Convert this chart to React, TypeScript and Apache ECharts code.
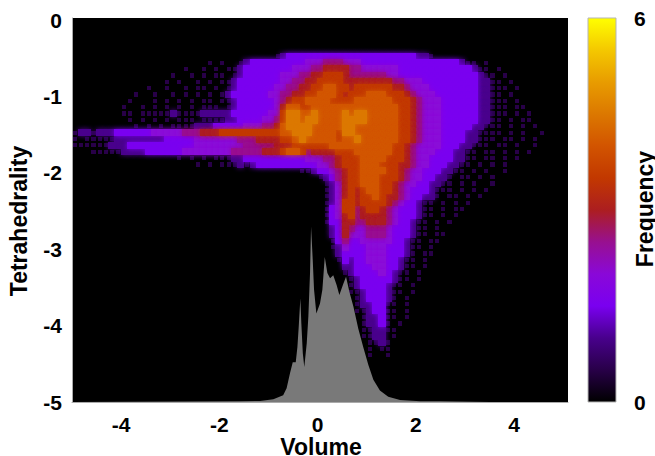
import React, { useEffect, useRef } from "react";
import * as echarts from "echarts";

// Frequency colour scale, evenly spaced from 0 to 6
const paletteStops = ["#000000","#280048","#48008c","#7a00f0","#8a08d8","#981090","#ac1e20","#c23800","#d25400","#dc7800","#e89c00","#f4c800","#ffff00"];
const xTicks = [-4, -2, 0, 2, 4];
const yTicks = [-5, -4, -3, -2, -1, 0];
const colourTicks = [0, 6];

// Grey marginal histogram of Volume, drawn up from the -5 baseline
const histX = [-5,-1.58,-1.17,-0.9,-0.7,-0.63,-0.56,-0.505,-0.444,-0.41,-0.383,-0.35,-0.33,-0.3,-0.27,-0.22,-0.187,-0.153,-0.132,-0.098,-0.071,-0.024,0.05,0.098,0.147,0.2,0.255,0.32,0.39,0.444,0.525,0.58,0.648,0.73,0.83,0.93,1.035,1.137,1.27,1.44,1.68,2.09,2.49,3.5,5.1];
const histY = [-5,-4.99,-4.987,-4.965,-4.91,-4.82,-4.62,-4.48,-4.48,-4.28,-4.01,-3.64,-3.97,-4.36,-4.54,-4.23,-3.88,-3.31,-2.7,-3.14,-3.53,-3.84,-3.71,-3.53,-3.1,-3.31,-3.38,-3.34,-3.47,-3.6,-3.45,-3.36,-3.555,-3.75,-4.04,-4.28,-4.515,-4.71,-4.85,-4.93,-4.975,-4.99,-4.99,-5,-5];

// Density levels, one row per 1/12 of Tetrahedrality, going down from about -0.39
// Each level is half a unit of Frequency; the first column of each row is in rowStarts
const levelStep = 0.5;
const colStep = 0.125;
const rowStep = 0.0833;
const firstCol = -4.9375;
const firstRow = -0.389;
const rowStarts = [33,33,22,18,16,15,12,10,9,8,8,9,10,0,0,0,3,17,20,37,40,41,41,41,41,41,41,41,42,42,42,42,43,43,44,44,45,45,45,46,46,46,47,47,47,47,48,48,48];
const rowLevels = [
  "",
  "12333333333333333333333221",
  "10100 123333 3333344 455544 4333333333333333 3211 01",
  "100101011 233333 33344 455 66665 5444444 333333333333 211 01",
  "1001010110 123333 33444 556 67776 55555544 333333333333 3211 01",
  "1010010101 123333 33344 556 677776 6 666666 554 44333333333 2211 01",
  "1001001011010 12333 33344 556 677887 76 7777776 654 4433333333 22111 01",
  "10010010101010 12333 33344 556 6778887 6 7 7788877 765 4443333333 221101",
  "1000101010101 101 12333333 456 77888877 7 788888877 765 444333333 2211101",
  "10010101010101 110 1233333 34 68 87788888 8 888888887 765 444333333 22111011",
  "11011111211112222 2333333 44 799 8898888 98 99888887 765 44433333 3221110101",
  "1010101011101 11122 333344 5 799 8998888 999 9888887 765 44433333 3221101011",
  "101010111 12223333 34445 56 899 9988888 998 8888887 765 4443333 322111010101",
  "12212223 3333344444 555666 7777777777 889 9988887 998 8888887 765 444333 32211110101001",
  "10111112 2222222333 3344444445 556666 778 9888887 889 8888887 765 444333 3221110110101",
  "111111222333 333333334444 4444555 556 6677 777 788 888 8888877 654 44433 32211101101001",
  "11111222 233333344 444444555 55666 7887 566 667 778 8888877 654 4433 32211011010101",
  "10101011 1223 33333333 34445 56 777 8888777 654 4333 322110110101",
  "10101112 123 33333333 344 56 777 888777 665 4433 322110101010",
  "112 33 45 677 888877 65 4433 322110101001",
  "123 5 677 888777 65 443 322101101010",
  "12 4 677 88877 65 443 322110101001",
  "12 4 676 78877 65 433 32111010101",
  "12 4 676 7787 665 43 32210110101",
  "12 4 77 6 7777 65 43 3211010101",
  "1 34 77 5 6776 54 33 321101011",
  "1 34 67 5 6666 54 33 32110101",
  "1 33 66 5 5666 5 433 2110101",
  "23 65 44555 4 333 211010",
  "23 64 44555 4 33 3211011",
  "13 53 34444 433 211011",
  "12 43 33444 333 211010",
  "2 33 33444 33 321011",
  "1 32 33444 33 211010",
  "22 33344 33 21101",
  "12 33334 32 11010",
  "1 23333 32 1101",
  "1 23333 2 11 01",
  "1 12333 2 1 101",
  "12333 2 1 01",
  "12233 1 1 01",
  "11233 1 101",
  "1223 1 1 01",
  "1223 1 01",
  "1122 1 1",
  "1122 01",
  "112 1",
  "1 0 11",
  "1001",
];

const FONT = "Liberation Sans";

function cells(): number[][] {
  const out: number[][] = [];
  rowLevels.forEach((row, r) => {
    const digits = row.replace(/\s/g, "");
    for (let i = 0; i < digits.length; i++) {
      const level = parseInt(digits[i], 16);
      if (level > 0) {
        out.push([firstCol + (rowStarts[r] + i) * colStep, firstRow - r * rowStep, level * levelStep]);
      }
    }
  });
  return out.sort((a, b) => a[2] - b[2]);
}

export default function App() {
  const ref = useRef<HTMLDivElement>(null);
  useEffect(() => {
    const chart = echarts.init(ref.current!, null, { renderer: "svg" });
    const labelStyle = { color: "#000", fontFamily: FONT, fontWeight: "bold" as const, fontSize: 21 };
    const nameText = (text: string, x: number, y: number, rotation: number) => ({
      type: "text", x, y, rotation, z: 100,
      style: { text, fill: "#000", font: `bold 23px "${FONT}"`, textAlign: "center", textVerticalAlign: "middle" },
    });
    chart.setOption({
      animation: false,
      backgroundColor: "#fff",
      grid: [
        { left: 72, top: 18, width: 496, height: 384, show: true, backgroundColor: "#000", borderWidth: 0, outerBoundsMode: "none" },
        { left: 588, top: 18, width: 28, height: 384, show: false, outerBoundsMode: "none" },
      ],
      xAxis: [
        {
          type: "value", gridIndex: 0, min: -5, max: 5.1,
          axisLine: { show: true, onZero: false, lineStyle: { color: "#aaaaaa", width: 1 } },
          axisTick: { show: false }, splitLine: { show: false },
          axisLabel: { ...labelStyle, margin: 12, customValues: xTicks, formatter: (v: number) => String(v) },
        },
        { type: "value", gridIndex: 1, show: false, min: 0, max: 1 },
      ],
      yAxis: [
        {
          type: "value", gridIndex: 0, min: -5, max: 0.03,
          axisLine: { show: true, onZero: false, lineStyle: { color: "#aaaaaa", width: 1 } },
          axisTick: { show: false }, splitLine: { show: false },
          axisLabel: { ...labelStyle, margin: 10, padding: [4, 0, 0, 0], customValues: yTicks, formatter: (v: number) => String(v) },
        },
        {
          type: "value", gridIndex: 1, position: "right", min: 0, max: 6,
          axisLine: { show: false }, axisTick: { show: false }, splitLine: { show: false },
          axisLabel: { ...labelStyle, margin: 18, customValues: colourTicks, formatter: (v: number) => String(v) },
        },
      ],
      visualMap: {
        type: "continuous", min: 0, max: 6, dimension: 2, seriesIndex: 0, show: false,
        inRange: { color: paletteStops },
      },
      graphic: [
        {
          type: "rect", x: 588, y: 18, z: 100, shape: { width: 28, height: 384 },
          style: {
            stroke: "#b5b5b5", lineWidth: 1,
            fill: new echarts.graphic.LinearGradient(0, 1, 0, 0,
              paletteStops.map((color, i) => ({ offset: i / (paletteStops.length - 1), color }))),
          },
        },
        nameText("Tetrahedrality", 19, 221, Math.PI / 2),
        nameText("Frequency", 645, 209, Math.PI / 2),
        nameText("Volume", 321, 447, 0),
      ],
      series: [
        {
          type: "custom", xAxisIndex: 0, yAxisIndex: 0, coordinateSystem: "cartesian2d", clip: true,
          data: cells(),
          encode: { x: 0, y: 1 },
          renderItem: (_: any, api: any) => {
            const x = api.value(0), y = api.value(1), f = api.value(2);
            const shrink = f <= levelStep ? 0.5 : 1;
            const a = api.coord([x - shrink * colStep / 2, y + shrink * rowStep / 2]);
            const b = api.coord([x + shrink * colStep / 2, y - shrink * rowStep / 2]);
            const x0 = Math.floor(a[0]), y0 = Math.floor(a[1]);
            const color = api.visual("color");
            return {
              type: "rect",
              shape: { x: x0, y: y0, width: Math.ceil(b[0]) - x0, height: Math.ceil(b[1]) - y0 },
              style: { fill: color, shadowBlur: f > levelStep ? 5 : 0, shadowColor: color },
            };
          },
        },
        {
          type: "line", xAxisIndex: 0, yAxisIndex: 0, showSymbol: false, silent: true, z: 5,
          data: histX.map((x, i) => [x, histY[i]]),
          lineStyle: { width: 0 },
          itemStyle: { color: "#808080" },
          areaStyle: { color: "#808080", opacity: 0.95, origin: "start" },
        },
      ],
    });
    return () => chart.dispose();
  }, []);
  return <div ref={ref} style={{ position: "absolute", left: 0, top: 0, width: 655, height: 456 }} />;
}
